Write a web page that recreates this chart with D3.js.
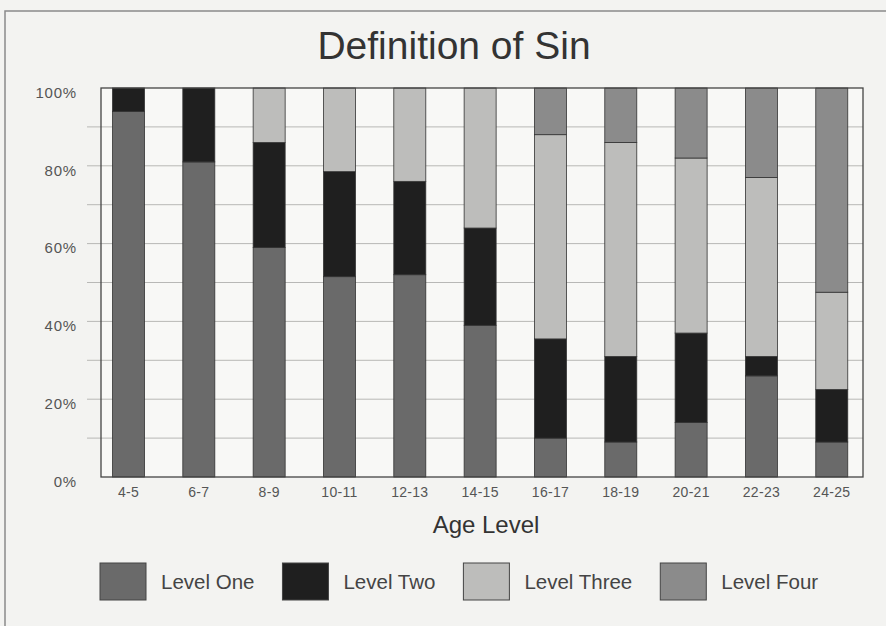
<!DOCTYPE html>
<html lang="en">
<head>
  <meta charset="UTF-8">
  <title>Definition of Sin</title>
  <script src="https://d3js.org/d3.v7.min.js"></script>
  <style>
    body {
      margin: 0;
      background: #f3f3f1;
      font-family: "Liberation Sans", Arial, sans-serif;
    }
    .grid line {
      stroke: #b8b8b6;
      stroke-width: 1px;
    }
    .axis text {
      fill: #555;
    }
  </style>
</head>
<body>

  <svg width="886" height="626"></svg>

  <script>
    const width = 886, height = 626;
    const svg = d3.select("svg");

    // data: percent of children at each level, per age group
    const ages = ["4-5", "6-7", "8-9", "10-11", "12-13", "14-15", "16-17", "18-19", "20-21", "22-23", "24-25"];
    const levels = ["Level One", "Level Two", "Level Three", "Level Four"];
    const levelOne   = [94, 81, 59, 51.5, 52, 39, 10, 9, 14, 26, 9];
    const levelTwo   = [6, 19, 27, 27, 24, 25, 25.5, 22, 23, 5, 13.5];
    const levelThree = [0, 0, 14, 21.5, 24, 36, 52.5, 55, 45, 46, 25];
    const levelFour  = [0, 0, 0, 0, 0, 0, 12, 14, 18, 23, 52.5];
    const yTicks = [0, 20, 40, 60, 80, 100];

    const colors = ["#6a6a6a", "#1f1f1f", "#bdbdbb", "#8b8b8b"];

    const margin = {top: 88, right: 23, bottom: 149, left: 101};
    const plotW = width - margin.left - margin.right;
    const plotH = height - margin.top - margin.bottom;

    // table for the stack layout
    const rows = ages.map((a, i) => ({
      age: a,
      "Level One": levelOne[i],
      "Level Two": levelTwo[i],
      "Level Three": levelThree[i],
      "Level Four": levelFour[i]
    }));
    const series = d3.stack().keys(levels)(rows);

    const x = d3.scaleBand()
      .domain(ages)
      .range([0, plotW])
      .paddingInner(0.545)
      .paddingOuter(0.19)
      .align(0.43);
    const y = d3.scaleLinear().domain([0, 100]).range([plotH, 0]);
    const color = d3.scaleOrdinal().domain(levels).range(colors);

    // outer frame of the figure
    svg.append("rect")
      .attr("x", 5).attr("y", 11)
      .attr("width", width + 20).attr("height", height + 20)
      .attr("fill", "none")
      .attr("stroke", "#8a8a8a")
      .attr("stroke-width", 1.5);

    // title
    svg.append("text")
      .attr("x", 454).attr("y", 59)
      .attr("text-anchor", "middle")
      .attr("font-size", 39)
      .attr("fill", "#333")
      .text("Definition of Sin");

    const g = svg.append("g").attr("transform", `translate(${margin.left},${margin.top})`);

    g.append("rect")
      .attr("width", plotW).attr("height", plotH)
      .attr("fill", "#f8f8f6");

    // horizontal gridlines every 10%, reaching out past the left border
    g.append("g")
      .attr("class", "grid")
      .selectAll("line")
      .data(d3.range(10, 100, 10))
      .enter().append("line")
      .attr("x1", -14).attr("x2", plotW)
      .attr("y1", d => y(d)).attr("y2", d => y(d));

    // stacked bars
    g.selectAll(".layer")
      .data(series)
      .enter().append("g")
      .attr("class", "layer")
      .attr("fill", d => color(d.key))
      .selectAll("rect")
      .data(d => d.filter(s => s[1] - s[0] > 0))
      .enter().append("rect")
      .attr("x", d => x(d.data.age))
      .attr("width", x.bandwidth())
      .attr("y", d => y(d[1]))
      .attr("height", d => y(d[0]) - y(d[1]))
      .attr("stroke", "#333")
      .attr("stroke-width", 0.8);

    // plot border
    g.append("rect")
      .attr("width", plotW).attr("height", plotH)
      .attr("fill", "none")
      .attr("stroke", "#444")
      .attr("stroke-width", 1.3);

    // y axis labels
    const yAxis = g.append("g")
      .attr("class", "axis")
      .call(d3.axisLeft(y).tickValues(yTicks).tickFormat(d => d + "%").tickSize(0).tickPadding(24));
    yAxis.select(".domain").remove();
    yAxis.selectAll("text")
      .attr("font-size", 15)
      .attr("letter-spacing", 0.8)
      .attr("dy", "0.62em")
      .attr("font-family", "Liberation Sans, Arial, sans-serif");

    // x axis labels
    const xAxis = g.append("g")
      .attr("class", "axis")
      .attr("transform", `translate(0,${plotH})`)
      .call(d3.axisBottom(x).tickSize(0).tickPadding(10));
    xAxis.select(".domain").remove();
    xAxis.selectAll("text")
      .attr("font-size", 14)
      .attr("letter-spacing", 0.3)
      .attr("font-family", "Liberation Sans, Arial, sans-serif");

    svg.append("text")
      .attr("x", 486).attr("y", 533)
      .attr("text-anchor", "middle")
      .attr("font-size", 24)
      .attr("fill", "#333")
      .text("Age Level");

    // legend: items flow left to right, each placed after the previous label
    const legend = svg.append("g")
      .selectAll("g")
      .data(levels)
      .enter().append("g");

    legend.append("rect")
      .attr("width", 46).attr("height", 37)
      .attr("fill", d => color(d))
      .attr("stroke", "#444")
      .attr("stroke-width", 1);

    legend.append("text")
      .attr("x", 61).attr("y", 26)
      .attr("font-size", 20.5)
      .attr("fill", "#444")
      .text(d => d);

    let lx = 100;
    legend.each(function() {
      const item = d3.select(this);
      item.attr("transform", `translate(${lx},563)`);
      lx += 61 + item.select("text").node().getComputedTextLength() + 28;
    });
  </script>

</body>
</html>
